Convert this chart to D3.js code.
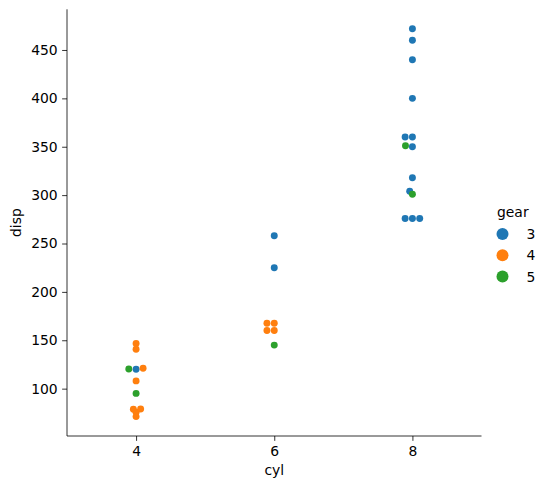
<!DOCTYPE html>
<html>
<head>
<meta charset="utf-8">
<script src="https://cdn.jsdelivr.net/npm/d3@7"></script>
<style>
  body { margin: 0; background: #fff; }
  text { font-family: "DejaVu Sans", sans-serif; fill: #000; }
</style>
</head>
<body>
<div id="chart"></div>
<script>
// mtcars: cyl, disp, gear (in data-set order)
const cyl = [6, 6, 4, 6, 8, 6, 8, 4, 4, 6, 6, 8, 8, 8, 8, 8, 8, 4, 4, 4, 4, 8, 8, 8, 8, 4, 4, 4, 8, 6, 8, 4];
const disp = [160, 160, 108, 258, 360, 225, 360, 146.7, 140.8, 167.6, 167.6, 275.8, 275.8, 275.8, 472, 460, 440,
  78.7, 75.7, 71.1, 120.1, 318, 304, 350, 400, 79, 120.3, 95.1, 351, 145, 301, 121];
const gear = [4, 4, 4, 3, 3, 3, 3, 4, 4, 4, 4, 3, 3, 3, 3, 3, 3, 4, 4, 4, 3, 3, 3, 3, 3, 4, 5, 5, 5, 5, 5, 4];

const gearLevels = [3, 4, 5];
const xTicks = [4, 6, 8];
const yTicks = [100, 150, 200, 250, 300, 350, 400, 450];

const width = 548;
const height = 489;
const margin = { top: 9.3, right: 66.5, bottom: 53, left: 67 };

const dotR = 2.5 * 100 / 72;   // seaborn size=5 at 100 dpi
const swarmYScale = 2.15;      // px per unit used when the swarm was packed

const color = d3.scaleOrdinal()
  .domain(gearLevels)
  .range(['#1f77b4', '#ff7f0e', '#2ca02c']);

const x = d3.scaleLinear()
  .domain([3, 9])
  .range([margin.left, width - margin.right]);

const [lo, hi] = d3.extent(disp);
const pad = (hi - lo) * 0.05;
const y = d3.scaleLinear()
  .domain([lo - pad, hi + pad])
  .range([height - margin.bottom, margin.top]);

// seaborn-style beeswarm, one swarm per category
function beeswarm(pts) {
  const midline = pts[0].x;
  const swarm = [pts[0]];
  for (let i = 1; i < pts.length; i++) {
    const p = pts[i];
    let neighbors = [];
    for (let j = swarm.length - 1; j >= 0; j--) {
      if (p.y - swarm[j].y < p.r + swarm[j].r) neighbors.push(swarm[j]);
      else break;
    }
    neighbors.reverse();
    let cands = [{ x: p.x }];
    let leftFirst = true;
    neighbors.forEach(n => {
      const dy = p.y - n.y;
      const dx = Math.sqrt(Math.max((p.r + n.r) ** 2 - dy * dy, 0)) * 1.05;
      const l = { x: n.x - dx }, r = { x: n.x + dx };
      if (leftFirst) cands.push(l, r); else cands.push(r, l);
      leftFirst = !leftFirst;
    });
    cands = cands.map((c, k) => ({ x: c.x, k }))
      .sort((a, b) => Math.abs(a.x - midline) - Math.abs(b.x - midline) || a.k - b.k);
    let chosen = cands[0];
    for (const c of cands) {
      const ok = neighbors.every(n => (n.x - c.x) ** 2 + (n.y - p.y) ** 2 >= (n.r + p.r) ** 2);
      if (ok) { chosen = c; break; }
    }
    p.x = chosen.x;
    swarm.push(p);
  }
}

const points = disp.map((d, i) => ({ i, cyl: cyl[i], disp: d, gear: gear[i], off: 0 }));
xTicks.forEach(c => {
  const grp = points.filter(p => p.cyl === c).sort((a, b) => a.disp - b.disp);
  const pts = grp.map(p => ({ x: 0, y: p.disp * swarmYScale, r: dotR, src: p }));
  beeswarm(pts);
  pts.forEach(q => { q.src.off = q.x; });
});

const svg = d3.select('#chart')
  .append('svg')
  .attr('width', width)
  .attr('height', height);

// axes
const xAxis = svg.append('g')
  .attr('transform', `translate(0,${height - margin.bottom})`)
  .call(d3.axisBottom(x).tickValues(xTicks).tickSize(4.86).tickPadding(5).tickFormat(d3.format('d')));
const yAxis = svg.append('g')
  .attr('transform', `translate(${margin.left},0)`)
  .call(d3.axisLeft(y).tickValues(yTicks).tickSize(4.86).tickPadding(4.5).tickFormat(d3.format('d')));

[xAxis, yAxis].forEach(a => {
  a.select('.domain').attr('stroke', '#000').attr('stroke-width', 0.8);
  a.selectAll('.tick line').attr('stroke', '#000').attr('stroke-width', 0.8);
  a.selectAll('.tick text')
    .attr('font-size', '13.9px')
    .attr('font-family', '"DejaVu Sans", sans-serif')
    .attr('fill', '#000');
});
// drop the outer tick caps of d3 domain paths
xAxis.select('.domain').attr('d', `M${margin.left},0H${width - margin.right}`);
yAxis.select('.domain').attr('d', `M0,${margin.top}V${height - margin.bottom}`);

svg.append('text')
  .attr('x', (margin.left + width - margin.right) / 2)
  .attr('y', 475)
  .attr('text-anchor', 'middle')
  .attr('font-size', '13.9px')
  .text('cyl');

svg.append('text')
  .attr('transform', `translate(21,${(margin.top + height - margin.bottom) / 2}) rotate(-90)`)
  .attr('text-anchor', 'middle')
  .attr('font-size', '13.9px')
  .text('disp');

// points
svg.append('g')
  .selectAll('circle')
  .data(points)
  .join('circle')
  .attr('cx', d => x(d.cyl) + d.off)
  .attr('cy', d => y(d.disp))
  .attr('r', dotR)
  .attr('fill', d => color(d.gear));

// legend
const legend = svg.append('g');
legend.append('text')
  .attr('x', 497)
  .attr('y', 217)
  .attr('font-size', '13.9px')
  .text('gear');

const items = legend.selectAll('g.item')
  .data(gearLevels)
  .join('g')
  .attr('class', 'item')
  .attr('transform', (d, i) => `translate(0,${234 + i * 21.3})`);
items.append('circle')
  .attr('cx', 502.5)
  .attr('cy', 0)
  .attr('r', 6)
  .attr('fill', d => color(d));
items.append('text')
  .attr('x', 526.5)
  .attr('y', 5)
  .attr('font-size', '13.9px')
  .text(d => d);
</script>
</body>
</html>
